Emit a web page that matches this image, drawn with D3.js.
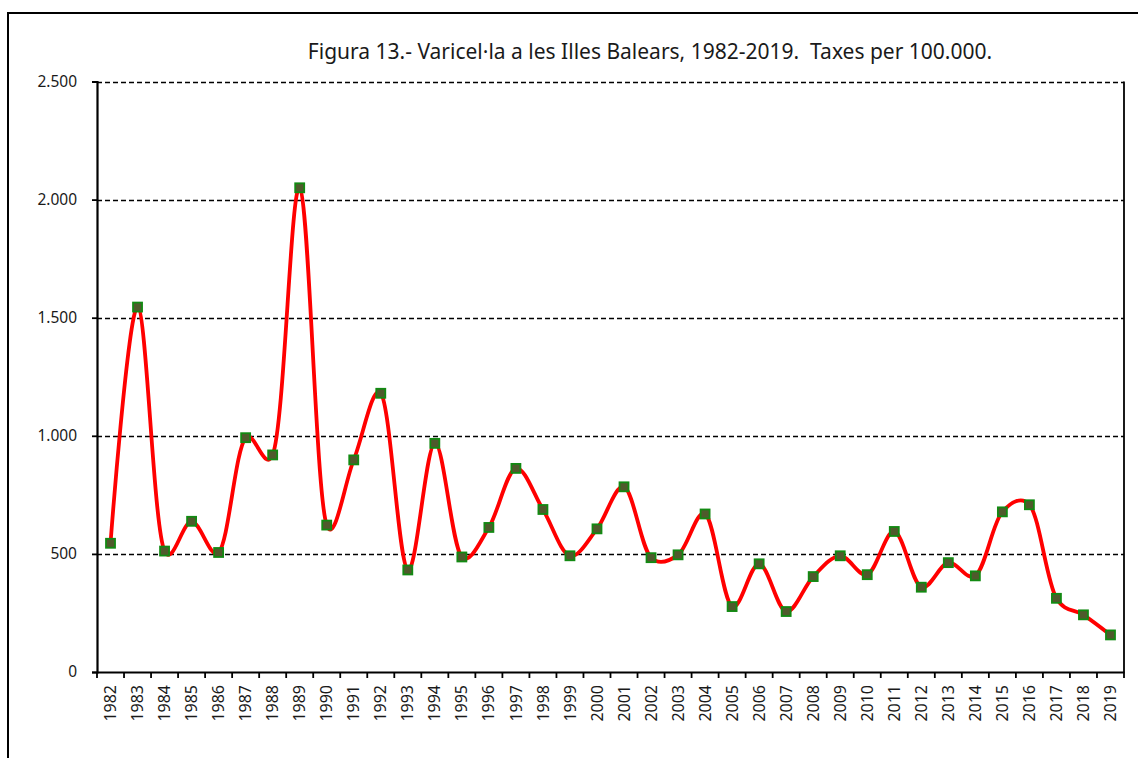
<!DOCTYPE html>
<html><head><meta charset="utf-8">
<script src="https://cdn.jsdelivr.net/npm/d3@7"></script>
<style>body{margin:0;background:#fff}svg{display:block}text{font-family:"Noto Sans",sans-serif;fill:#1a1a1a}</style>
</head><body>
<svg id="c" width="1138" height="758"></svg>
<script>
const years = ["1982","1983","1984","1985","1986","1987","1988","1989","1990","1991","1992","1993","1994","1995","1996","1997","1998","1999","2000","2001","2002","2003","2004","2005","2006","2007","2008","2009","2010","2011","2012","2013","2014","2015","2016","2017","2018","2019"];
const rates = [545,1545,512,638,506,992,919,2050,622,898,1180,432,968,487,612,862,688,492,606,784,484,496,669,277,458,256,404,492,412,595,359,463,407,678,708,312,242,157];
const yTicks = [0,500,1000,1500,2000,2500];
const yTickLabels = ["0","500","1.000","1.500","2.000","2.500"];
const title = "Figura 13.- Varicel\u00b7la a les Illes Balears, 1982-2019.  Taxes per 100.000.";

const svg = d3.select("#c");
const L = 97, R = 1124, T = 81.5, B = 672;
const x = d3.scaleBand().domain(years).range([L, R]);
const y = d3.scaleLinear().domain([0, 2500]).range([B, T]);

// outer border
svg.append("rect").attr("x", 8).attr("y", 13).attr("width", 1140).attr("height", 760)
  .attr("fill", "none").attr("stroke", "#000").attr("stroke-width", 2);

// title
svg.append("text").attr("x", 650).attr("y", 59).attr("text-anchor", "middle")
  .style("font-size", "21px").style("white-space", "pre").text(title);

// gridlines
svg.append("g").selectAll("line").data(yTicks.filter(d => d > 0)).join("line")
  .attr("x1", L).attr("x2", R).attr("y1", d => Math.round(y(d)) + 0.5).attr("y2", d => Math.round(y(d)) + 0.5)
  .attr("stroke", "#000").attr("stroke-width", 1.6).attr("stroke-dasharray", "5,3");

// right border
svg.append("line").attr("x1", R).attr("x2", R).attr("y1", T).attr("y2", B)
  .attr("stroke", "#000").attr("stroke-width", 1.8);

// y axis
const ya = svg.append("g").attr("transform", `translate(${L},0)`)
  .call(d3.axisLeft(y).tickValues(yTicks).tickFormat((d, i) => yTickLabels[i]).tickSize(5).tickPadding(15));
ya.select(".domain").attr("stroke", "#000").attr("stroke-width", 2.2);
ya.selectAll(".tick line").attr("stroke", "#000").attr("stroke-width", 1.8);
ya.selectAll("text").style("font-size", "15.5px").attr("fill", "#1a1a1a").style("font-family", "'Noto Sans',sans-serif");

// x axis
const xa = svg.append("g").attr("transform", `translate(0,${B})`)
  .call(d3.axisBottom(x).tickSize(0).tickPadding(0));
xa.select(".domain").attr("stroke", "#000").attr("stroke-width", 2.2);
xa.selectAll(".tick text").attr("transform", "rotate(-90)").attr("x", -13).attr("y", 0).attr("dy", "0.35em")
  .attr("text-anchor", "end").style("font-size", "16px").attr("fill", "#1a1a1a").style("font-family", "'Noto Sans',sans-serif");
// x tick marks between categories
const bounds = years.map(d => x(d)).concat([R]);
xa.append("g").selectAll("line").data(bounds).join("line")
  .attr("x1", d => d).attr("x2", d => d).attr("y1", 0).attr("y2", 6)
  .attr("stroke", "#000").attr("stroke-width", 1.8);

// line
const cx = d => x(d) + x.bandwidth() / 2;
const line = d3.line().x((d, i) => cx(years[i])).y(d => y(d)).curve(d3.curveCatmullRom.alpha(0.2));
svg.append("path").datum(rates).attr("d", line).attr("fill", "none")
  .attr("stroke", "#ff0000").attr("stroke-width", 3.8);

// markers
svg.append("g").selectAll("rect").data(rates).join("rect")
  .attr("x", (d, i) => cx(years[i]) - 4.5).attr("y", d => y(d) - 4.5)
  .attr("width", 9).attr("height", 9)
  .attr("fill", "#4f5a2c").attr("stroke", "#128a12").attr("stroke-width", 1.8);
</script>
</body></html>
